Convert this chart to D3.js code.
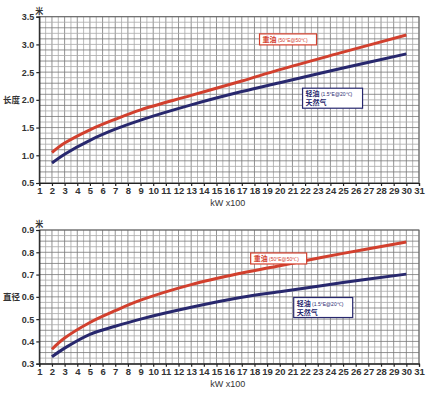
<!DOCTYPE html>
<html>
<head>
<meta charset="utf-8">
<script src="https://cdn.jsdelivr.net/npm/d3@7"></script>
<style>
  body { margin: 0; background: #fff; }
  svg text { font-family: "Liberation Sans", Arial, sans-serif; }
  .cjk { font-family: "Noto Sans CJK SC", sans-serif; }
</style>
</head>
<body>
<svg id="chart" width="438" height="398"></svg>
<script>
// kW x100 sample points
const kw = [2, 3, 5, 7, 9, 13, 17, 20, 25, 30];

// length (米)
const lengthHeavy = [1.05, 1.22, 1.46, 1.65, 1.82, 2.08, 2.34, 2.545, 2.86, 3.17];
const lengthLight = [0.86, 1.02, 1.27, 1.47, 1.635, 1.91, 2.15, 2.31, 2.575, 2.83];

// diameter (米)
const diamHeavy = [0.365, 0.415, 0.485, 0.538, 0.585, 0.655, 0.707, 0.74, 0.795, 0.846];
const diamLight = [0.331, 0.37, 0.432, 0.468, 0.5, 0.553, 0.598, 0.623, 0.664, 0.702];

const xTicks = d3.range(1, 32);
const lengthTicks = [0.5, 1.0, 1.5, 2.0, 2.5, 3.0, 3.5];
const diamTicks = [0.3, 0.4, 0.5, 0.6, 0.7, 0.8, 0.9];

const red = '#d2402e';
const navy = '#28286e';

const svg = d3.select('#chart');

const x = d3.scaleLinear().domain([1, 31]).range([39.3, 419]);

function drawPanel({top, bottom, yDomain, yTicks, yStep, yFmt, yLabel, heavy, light, heavyBox, lightBox}) {
  const y = d3.scaleLinear().domain(yDomain).range([bottom, top]);
  const g = svg.append('g');

  // grid
  const vLines = d3.range(1, 31.01, 0.5);
  g.selectAll('.vg').data(vLines).enter().append('line')
    .attr('x1', d => x(d)).attr('x2', d => x(d))
    .attr('y1', top).attr('y2', bottom)
    .attr('stroke', d => d % 1 === 0 ? '#777' : '#aaa')
    .attr('stroke-width', 0.8);
  const n = Math.round((yDomain[1] - yDomain[0]) / yStep);
  const hLines = d3.range(n + 1).map(i => yDomain[0] + i * yStep);
  g.selectAll('.hg').data(hLines).enter().append('line')
    .attr('x1', x(1)).attr('x2', x(31))
    .attr('y1', d => y(d)).attr('y2', d => y(d))
    .attr('stroke', (d, i) => i % 2 === 0 ? '#777' : '#aaa')
    .attr('stroke-width', 0.8);

  g.append('rect')
    .attr('x', x(1)).attr('y', top)
    .attr('width', x(31) - x(1)).attr('height', bottom - top)
    .attr('fill', 'none').attr('stroke', '#666').attr('stroke-width', 1);

  // axes
  const yAxis = d3.axisLeft(y).tickValues(yTicks).tickSize(3).tickFormat(yFmt);
  const ya = g.append('g').attr('transform', `translate(${x(1)},0)`).call(yAxis);
  ya.select('.domain').attr('stroke', '#222').attr('stroke-width', 1.2);
  ya.selectAll('.tick line').attr('stroke', '#222').attr('stroke-width', 1.2);
  ya.selectAll('text').attr('font-size', 9).attr('font-weight', 'bold')
    .attr('fill', '#333').attr('font-family', 'Liberation Sans, Arial, sans-serif').attr('dx', 1);

  const xAxis = d3.axisBottom(x).tickValues(xTicks).tickSize(3).tickFormat(d3.format('d'));
  const xa = g.append('g').attr('transform', `translate(0,${bottom})`).call(xAxis);
  xa.select('.domain').attr('stroke', '#222').attr('stroke-width', 1.2);
  xa.selectAll('.tick line').attr('stroke', '#222').attr('stroke-width', 1.2);
  xa.selectAll('text').attr('font-size', 9.5).attr('font-weight', 'bold')
    .attr('fill', '#333').attr('font-family', 'Liberation Sans, Arial, sans-serif').attr('dy', '0.55em');

  g.append('text').attr('x', x(14.5)).attr('y', bottom + 23)
    .attr('font-size', 9).attr('fill', '#333').text('kW x100');

  g.append('text').attr('class', 'cjk').attr('x', x(1)).attr('y', top - 3)
    .attr('text-anchor', 'middle').attr('font-size', 8).attr('font-weight', 'bold')
    .attr('fill', '#333').text('米');
  g.append('text').attr('class', 'cjk').attr('x', 3).attr('y', (top + bottom) / 2 + 3)
    .attr('font-size', 8.5).attr('font-weight', 'bold').attr('fill', '#333').text(yLabel);

  // curves
  const line = d3.line().x(d => x(d[0])).y(d => y(d[1])).curve(d3.curveCatmullRom.alpha(0.5));
  [[heavy, red], [light, navy]].forEach(([vals, col]) => {
    g.append('path').datum(kw.map((k, i) => [k, vals[i]]))
      .attr('d', line).attr('fill', 'none')
      .attr('stroke', col).attr('stroke-width', 3);
  });

  // labels
  const hb = g.append('g').attr('transform', `translate(${x(heavyBox[0])},${y(heavyBox[1])})`);
  hb.append('rect').attr('width', heavyBox[2]).attr('height', 11)
    .attr('fill', '#fff').attr('stroke', red).attr('stroke-width', 1.2);
  const ht = hb.append('text').attr('x', 3).attr('y', 8.3).attr('fill', red);
  ht.append('tspan').attr('class', 'cjk').attr('font-size', 7).attr('font-weight', 'bold').text('重油');
  ht.append('tspan').attr('font-size', 5).text(' (50°E@50℃)');

  const lb = g.append('g').attr('transform', `translate(${x(lightBox[0])},${y(lightBox[1])})`);
  lb.append('rect').attr('width', lightBox[2]).attr('height', 20)
    .attr('fill', '#fff').attr('stroke', navy).attr('stroke-width', 1.2);
  const lt = lb.append('text').attr('x', 3).attr('y', 8).attr('fill', navy);
  lt.append('tspan').attr('class', 'cjk').attr('font-size', 7).attr('font-weight', 'bold').text('轻油');
  lt.append('tspan').attr('font-size', 5).text(' (1.5°E@20℃)');
  lb.append('text').attr('class', 'cjk').attr('x', 3).attr('y', 17.2)
    .attr('font-size', 7).attr('font-weight', 'bold').attr('fill', navy).text('天然气');
}

drawPanel({
  top: 16.7, bottom: 183, yDomain: [0.5, 3.5], yTicks: lengthTicks, yStep: 0.1,
  yFmt: d3.format('.1f'), yLabel: '长度',
  heavy: lengthHeavy, light: lengthLight,
  heavyBox: [18.4, 3.19, 57], lightBox: [21.8, 2.21, 60]
});

drawPanel({
  top: 230, bottom: 363.7, yDomain: [0.3, 0.9], yTicks: diamTicks, yStep: 0.025,
  yFmt: d3.format('.1f'), yLabel: '直径',
  heavy: diamHeavy, light: diamLight,
  heavyBox: [17.7, 0.797, 56], lightBox: [21.1, 0.597, 59]
});
</script>
</body>
</html>
